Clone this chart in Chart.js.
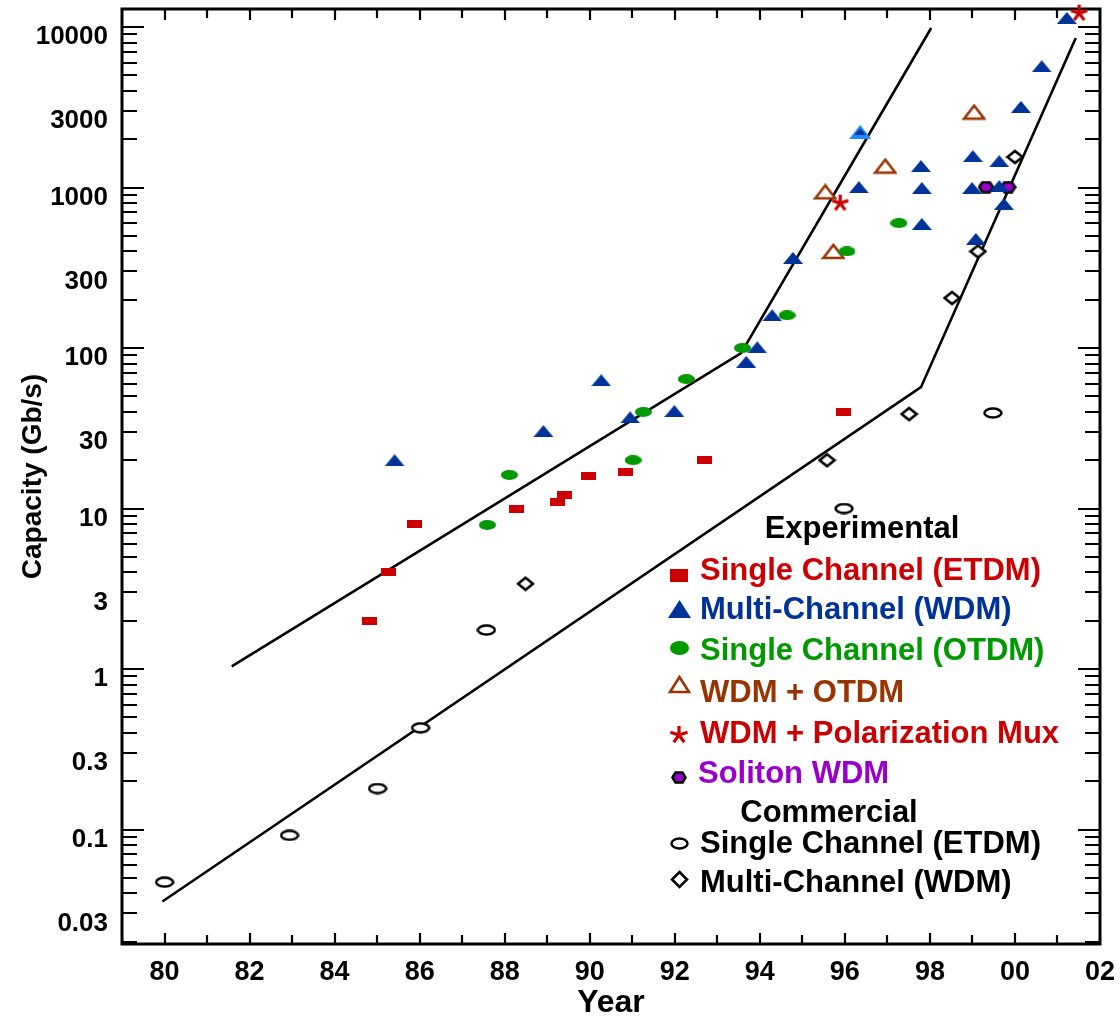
<!DOCTYPE html>
<html>
<head>
<meta charset="utf-8">
<title>Capacity vs Year</title>
<script src="https://cdn.jsdelivr.net/npm/chart.js@4.4.1/dist/chart.umd.min.js"></script>
<style>
  html, body { margin: 0; padding: 0; background: #fff; }
  canvas { display: block; }
</style>
</head>
<body>
<canvas id="chart" width="1120" height="1019"></canvas>
<script>
// values: year, capacity in Gb/s
const etdmYears = [1984.82, 1985.27, 1985.88, 1988.27, 1989.24, 1989.40, 1989.97, 1990.84, 1992.69, 1995.96];
const etdmGbps  = [2.0, 4.0, 8.0, 10, 11, 12.1, 15.9, 16.9, 20, 40];

const wdmYears = [1985.41, 1988.91, 1990.27, 1990.95, 1991.99, 1993.68, 1993.94, 1994.29, 1994.78, 1996.33,
                  1996.36, 1997.79, 1997.81, 1997.81, 1999.01, 1998.99, 1999.08, 1999.63, 1999.63, 1999.74,
                  2000.14, 2000.63, 2001.22];
const wdmGbps  = [20, 30.4, 63, 37, 40.5, 82, 101, 160, 364, 1005,
                  2220, 1360, 993, 593, 1570, 993, 478, 1460, 1020, 790,
                  3180, 5700, 11400];
const wdmHighlight = 10;   // the lighter blue triangle

const otdmYears = [1987.59, 1988.11, 1991.02, 1991.26, 1992.27, 1993.59, 1994.64, 1996.05, 1997.27];
const otdmGbps  = [7.9, 16.2, 20, 40, 64, 100, 160, 400, 600];

const wdmOtdmYears = [1995.54, 1995.73, 1996.95, 1999.04];
const wdmOtdmGbps  = [940, 400, 1360, 2950];

const polMuxYears = [1995.89, 2001.51];
const polMuxGbps  = [800, 12200];

const solitonYears = [1999.32, 1999.84];
const solitonGbps  = [1005, 1005];

const commEtdmYears = [1980.0, 1982.94, 1985.01, 1986.02, 1987.57, 1995.98, 1999.48];
const commEtdmGbps  = [0.047, 0.092, 0.18, 0.43, 1.75, 10, 39.4];

const commWdmYears = [1988.49, 1995.58, 1997.51, 1998.52, 1999.13, 2000.0];
const commWdmGbps  = [3.4, 20, 38.8, 205, 400, 1550];

// trend lines
const expTrendYears  = [1981.58, 1993.56, 1998.03];
const expTrendGbps   = [1.04, 93, 9860];
const commTrendYears = [1979.95, 1997.79, 2001.43];
const commTrendGbps  = [0.0356, 57, 8540];

// axes
const xTickYears  = [1980, 1982, 1984, 1986, 1988, 1990, 1992, 1994, 1996, 1998, 2000, 2002];
const xTickLabels = ['80', '82', '84', '86', '88', '90', '92', '94', '96', '98', '00', '02'];
const yTickValues = [0.03, 0.1, 0.3, 1, 3, 10, 30, 100, 300, 1000, 3000, 10000];
const yTickLabels = ['0.03', '0.1', '0.3', '1', '3', '10', '30', '100', '300', '1000', '3000', '10000'];

const RED = '#cc0000', BLUE = '#003399', GREEN = '#009900', BROWN = '#993300', PURPLE = '#9900cc';

function pts(xs, ys) {
  return xs.map((x, i) => ({ x: x, y: ys[i] }));
}

// little canvases used as point styles
function marker(w, h, draw) {
  const c = document.createElement('canvas');
  c.width = w; c.height = h;
  draw(c.getContext('2d'), w, h);
  return c;
}
function rectMark(w, h, color) {
  return marker(w, h, g => { g.fillStyle = color; g.fillRect(0, 0, w, h); });
}
function triMark(w, h, color) {
  return marker(w, h, g => {
    g.fillStyle = color;
    g.beginPath(); g.moveTo(0, h); g.lineTo(w / 2, 0); g.lineTo(w, h); g.closePath(); g.fill();
  });
}
function ellMark(w, h, color) {
  return marker(w, h, g => {
    g.fillStyle = color;
    g.beginPath(); g.ellipse(w / 2, h / 2, w / 2, h / 2, 0, 0, Math.PI * 2); g.fill();
  });
}
function openTriMark(w, h, color) {
  return marker(w, h, g => {
    g.fillStyle = '#fff'; g.strokeStyle = color; g.lineWidth = 2.6;
    g.beginPath(); g.moveTo(2, h - 2); g.lineTo(w / 2, 2); g.lineTo(w - 2, h - 2); g.closePath();
    g.fill(); g.stroke();
  });
}
function starMark(s, color) {
  return marker(s, s, g => {
    g.strokeStyle = color; g.lineWidth = 3.2;
    const r = s / 2 - 1;
    g.beginPath();
    for (let k = 0; k < 5; k++) {
      const a = -Math.PI / 2 + k * 2 * Math.PI / 5;
      g.moveTo(s / 2, s / 2);
      g.lineTo(s / 2 + r * Math.cos(a), s / 2 + r * Math.sin(a));
    }
    g.stroke();
  });
}
function hexMark(w, h) {
  return marker(w, h, g => {
    g.fillStyle = PURPLE; g.strokeStyle = '#000'; g.lineWidth = 2.5;
    const m = 1.5;
    g.beginPath();
    g.moveTo(m, h / 2); g.lineTo(w * 0.28, m); g.lineTo(w * 0.72, m);
    g.lineTo(w - m, h / 2); g.lineTo(w * 0.72, h - m); g.lineTo(w * 0.28, h - m); g.closePath();
    g.fill(); g.stroke();
  });
}
function openEllMark(w, h) {
  return marker(w, h, g => {
    g.fillStyle = '#fff'; g.strokeStyle = '#000'; g.lineWidth = 2.5;
    g.beginPath(); g.ellipse(w / 2, h / 2, w / 2 - 1.5, h / 2 - 1.5, 0, 0, Math.PI * 2);
    g.fill(); g.stroke();
  });
}
function diamondMark(w, h) {
  return marker(w, h, g => {
    g.fillStyle = '#fff'; g.strokeStyle = '#000'; g.lineWidth = 2.6;
    g.beginPath(); g.moveTo(w / 2, 2); g.lineTo(w - 2, h / 2); g.lineTo(w / 2, h - 2); g.lineTo(2, h / 2); g.closePath();
    g.fill(); g.stroke();
  });
}
const triLight = marker(22, 14, g => {
  g.fillStyle = '#1a8cff';
  g.beginPath(); g.moveTo(0, 14); g.lineTo(11, 0); g.lineTo(22, 14); g.closePath(); g.fill();
  g.fillStyle = BLUE;
  g.beginPath(); g.moveTo(5, 10); g.lineTo(11, 3.5); g.lineTo(17, 10); g.closePath(); g.fill();
});

const plotMarks = [
  rectMark(15, 8, RED), triMark(20, 12, BLUE), ellMark(17, 10, GREEN), openTriMark(24, 17, BROWN),
  starMark(19, RED), hexMark(17, 13), openEllMark(20, 12), diamondMark(19, 16)
];
const legendMarks = [
  rectMark(18, 13, RED), triMark(23, 18, BLUE), ellMark(19, 14, GREEN), openTriMark(23, 19, BROWN),
  starMark(20, RED), hexMark(16, 13), openEllMark(19, 13), diamondMark(19, 19)
];

function markerSet(label, xs, ys, mark) {
  return { label: label, data: pts(xs, ys), pointStyle: mark, pointRadius: 6, clip: false, order: 0 };
}
function trendSet(xs, ys) {
  return { label: 'trend', data: pts(xs, ys), showLine: true, pointRadius: 0, borderColor: '#000',
           borderWidth: 2.6, order: 10, clip: false };
}

const datasets = [
  markerSet('Single Channel (ETDM)', etdmYears, etdmGbps, plotMarks[0]),
  markerSet('Multi-Channel (WDM)', wdmYears, wdmGbps, plotMarks[1]),
  markerSet('Single Channel (OTDM)', otdmYears, otdmGbps, plotMarks[2]),
  markerSet('WDM + OTDM', wdmOtdmYears, wdmOtdmGbps, plotMarks[3]),
  markerSet('WDM + Polarization Mux', polMuxYears, polMuxGbps, plotMarks[4]),
  markerSet('Soliton WDM', solitonYears, solitonGbps, plotMarks[5]),
  markerSet('Single Channel (ETDM)', commEtdmYears, commEtdmGbps, plotMarks[6]),
  markerSet('Multi-Channel (WDM)', commWdmYears, commWdmGbps, plotMarks[7]),
  trendSet(expTrendYears, expTrendGbps),
  trendSet(commTrendYears, commTrendGbps)
];
datasets[1].pointStyle = ctx => (ctx.dataIndex === wdmHighlight ? triLight : plotMarks[1]);

const textColors = [RED, BLUE, GREEN, BROWN, RED, PURPLE, '#000', '#000'];

// frame with inward ticks, drawn like the original plotting package
const frameTicks = {
  id: 'frameTicks',
  beforeDatasetsDraw(chart) {
    const { ctx, chartArea: a, scales: { x, y } } = chart;
    ctx.save();
    ctx.strokeStyle = '#000';
    ctx.lineWidth = 2.2;
    ctx.beginPath();
    for (let e = -2; e <= 4; e++) {
      for (let m = 1; m <= 9; m++) {
        const py = Math.round(y.getPixelForValue(m * Math.pow(10, e)));
        if (py < a.top + 2 || py > a.bottom - 2) continue;
        const len = m === 1 ? 22 : 15;
        ctx.moveTo(a.left, py); ctx.lineTo(a.left + len, py);
        ctx.moveTo(a.right, py); ctx.lineTo(a.right - len, py);
      }
    }
    for (let yr = 1980; yr <= 2001; yr++) {
      const px = Math.round(x.getPixelForValue(yr));
      const len = yr % 2 === 0 ? 11 : 9;
      ctx.moveTo(px, a.bottom); ctx.lineTo(px, a.bottom - len);
      ctx.moveTo(px, a.top); ctx.lineTo(px, a.top + len);
    }
    ctx.stroke();
    ctx.lineWidth = 3;
    ctx.strokeRect(a.left, a.top, a.right - a.left, a.bottom - a.top);
    ctx.restore();
  }
};

// legend with group headers and coloured labels
const groupLegend = {
  id: 'groupLegend',
  afterDatasetsDraw(chart) {
    const ctx = chart.ctx;
    const baselines = [580, 619, 660, 702, 743, 783, 853, 892];
    const markY = [575, 609, 648, 684, 735, 777, 843, 879];
    ctx.save();
    ctx.font = 'bold 31px "Liberation Sans", Arial, sans-serif';
    ctx.textBaseline = 'alphabetic';
    ctx.fillStyle = '#000';
    ctx.textAlign = 'center';
    ctx.fillText('Experimental', 862, 538);
    ctx.fillText('Commercial', 829, 822);
    ctx.textAlign = 'left';
    for (let i = 0; i < 8; i++) {
      const mk = legendMarks[i];
      ctx.drawImage(mk, Math.round(679 - mk.width / 2), Math.round(markY[i] - mk.height / 2));
      ctx.fillStyle = textColors[i];
      ctx.fillText(chart.data.datasets[i].label, i === 5 ? 698 : 700, baselines[i]);
    }
    ctx.restore();
  }
};

function noPadding(s) {
  s.paddingTop = 0; s.paddingBottom = 0; s.paddingLeft = 0; s.paddingRight = 0;
}

Chart.defaults.font.family = '"Liberation Sans", Arial, sans-serif';
Chart.defaults.font.weight = 'bold';
Chart.defaults.color = '#000';

new Chart(document.getElementById('chart'), {
  type: 'scatter',
  data: { datasets: datasets },
  options: {
    responsive: false,
    animation: false,
    events: [],
    layout: { padding: { top: 9, right: 20, left: 0, bottom: 0 } },
    plugins: { legend: { display: false }, tooltip: { enabled: false } },
    scales: {
      x: {
        type: 'linear',
        min: 1979,
        max: 2002,
        grid: { display: false, drawTicks: false },
        border: { display: false },
        afterBuildTicks: s => { s.ticks = xTickYears.map(v => ({ value: v })); },
        afterFit: s => { s.height = 75; noPadding(s); },
        ticks: {
          autoSkip: false, maxRotation: 0, padding: 12,
          font: { size: 27, weight: 'bold' },
          callback: v => xTickLabels[xTickYears.indexOf(v)]
        },
        title: { display: true, text: 'Year', font: { size: 32, weight: 'bold', lineHeight: 1 }, padding: { top: 0, bottom: 0 } }
      },
      y: {
        type: 'logarithmic',
        min: 0.01935,
        max: 12950,
        grid: { display: false, drawTicks: false },
        border: { display: false },
        afterBuildTicks: s => { s.ticks = yTickValues.map(v => ({ value: v })); },
        afterFit: s => { s.width = 122; noPadding(s); },
        ticks: {
          autoSkip: false, padding: 14, labelOffset: 10,
          font: { size: 26, weight: 'bold' },
          callback: v => yTickLabels[yTickValues.indexOf(v)]
        },
        title: { display: true, text: 'Capacity (Gb/s)', font: { size: 28, weight: 'bold', lineHeight: 1 }, padding: { top: 19, bottom: 0 } }
      }
    }
  },
  plugins: [frameTicks, groupLegend]
});
</script>
</body>
</html>
